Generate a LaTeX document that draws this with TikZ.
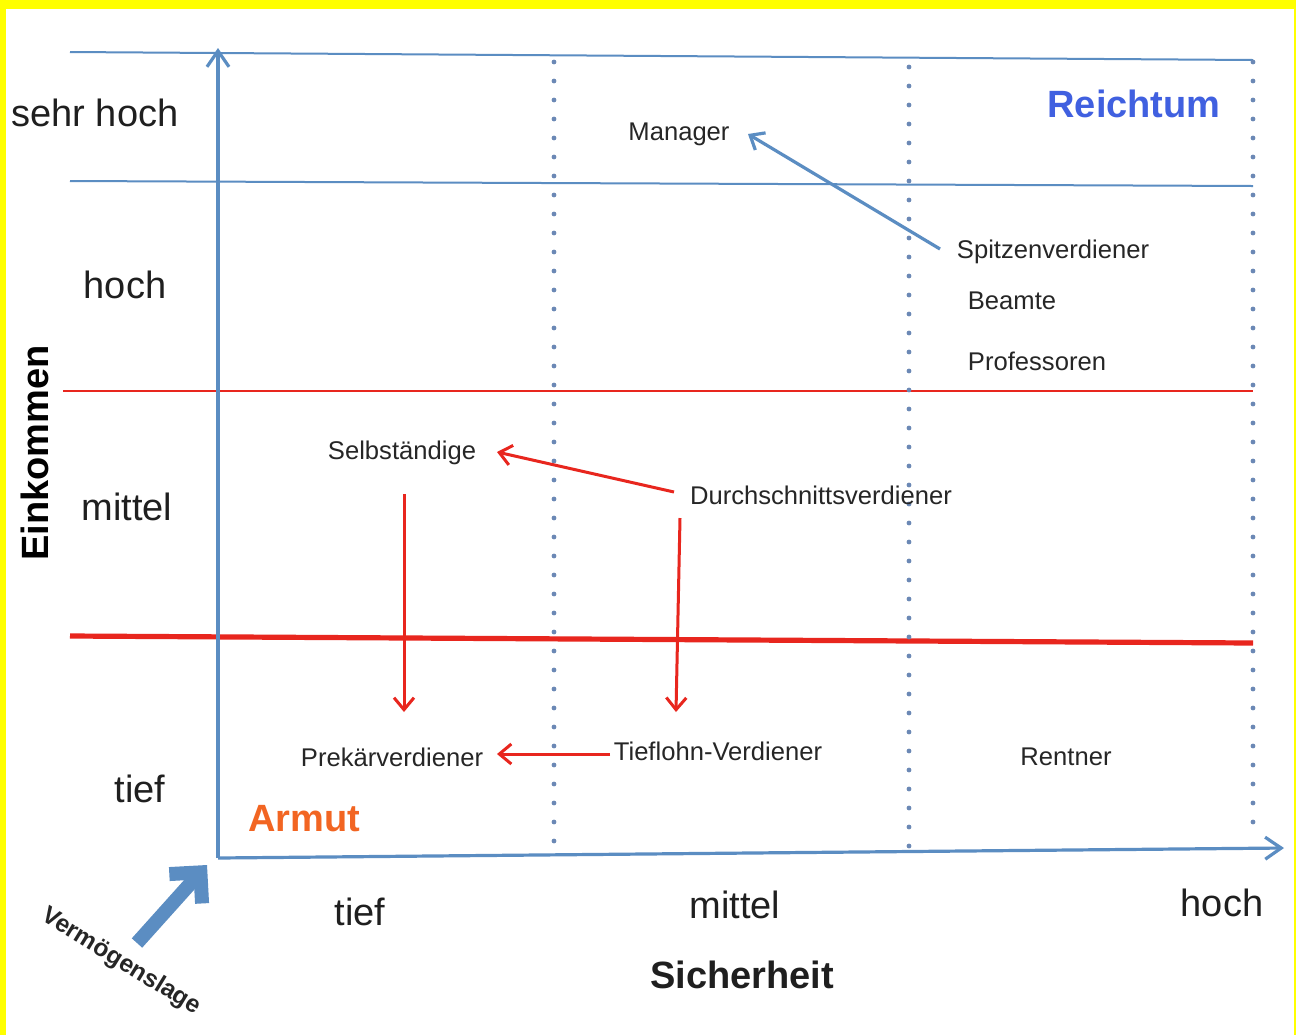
\documentclass[tikz,border=0pt]{standalone}
\usepackage{fontspec}
\setmainfont{Liberation Sans}
\usetikzlibrary{arrows.meta}
\definecolor{lblue}{HTML}{5B8DC2}
\definecolor{dotblue}{HTML}{6B88B5}
\definecolor{rred}{HTML}{E8261E}
\definecolor{richblue}{HTML}{4060E0}
\definecolor{armorange}{HTML}{F26522}
\definecolor{ybg}{HTML}{FFFF00}
\begin{document}
\begin{tikzpicture}[x=0.5pt,y=-0.5pt,
  big/.style={font=\fontsize{19}{22}\selectfont, text=black!88, inner sep=0pt},
  bigbold/.style={font=\fontsize{19}{22}\selectfont\bfseries, inner sep=0pt},
  small/.style={font=\fontsize{12.8}{15}\selectfont, text=black!85, inner sep=0pt},
  gridblue/.style={lblue, line width=1pt},
  dotline/.style={dotblue, line width=2.4pt, line cap=round, dash pattern=on 0pt off 9.5pt},
  axis/.style={lblue, line width=1.6pt, -{Straight Barb[length=8pt,width=11pt,line width=1.6pt]}},
  redarrow/.style={rred, line width=1.5pt, -{Straight Barb[length=6pt,width=10pt,line width=1.5pt]}},
  bluearrow/.style={lblue, line width=1.6pt, -{Straight Barb[length=6pt,width=10pt,line width=1.6pt]}}
]
\fill[ybg] (0,0) rectangle (1296,1035);
\fill[white] (6,9) rectangle (1294,1035);
\useasboundingbox (0,0) rectangle (1296,1035);

% grid lines
\draw[gridblue] (70,52) -- (1253,60);
\draw[gridblue] (70,181) -- (1253,186);
\draw[rred, line width=0.8pt] (63,391) -- (1253,391);
\draw[rred, line width=2.6pt] (70,636) -- (1253,643);
\draw[dotline] (554,62) -- (554,855);
\draw[dotline] (909,67) -- (909,850);
\draw[dotline] (1253,62) -- (1253,840);

% axes
\coordinate (origin) at (218,858);
\coordinate (ytop) at (218,48);
\coordinate (xend) at (1284,848);
\draw[axis] (origin) -- (ytop);
\draw[axis] (origin) -- (xend);

% Vermoegenslage arrow
\coordinate (vstart) at (137,943);
\coordinate (vend) at (207,865);
\draw[lblue, line width=7pt, -{Straight Barb[length=11pt,width=22pt,line width=7pt]}] (vstart) -- (vend);
\node[font=\fontsize{12.3}{15}\selectfont\bfseries, text=black!85, rotate=-31.5, inner sep=0pt] (verm) at (121,962) {Vermögenslage};

% axis labels
\node[bigbold, rotate=90] (eink) at (35,453) {Einkommen};
\node[big] (ysh) at (95,113) {sehr hoch};
\node[big] (yh) at (125,285) {hoch};
\node[big] (ym) at (127,507) {mittel};
\node[big] (yt) at (140,789) {tief};
\node[big] (xt) at (360,912) {tief};
\node[big] (xm) at (735,905) {mittel};
\node[big] (xh) at (1222,903) {hoch};
\node[bigbold, text=black!88] (sich) at (742,975) {Sicherheit};

\node[bigbold, text=richblue] (reich) at (1134,104) {Reichtum};
\node[bigbold, text=armorange] (armut) at (304,819) {Armut};

% groups
\node[small] (manager) at (679,134) {Manager};
\node[small] (spitzen) at (1053,252) {Spitzenverdiener};
\node[small] (beamte) at (1012,301) {Beamte};
\node[small] (prof) at (1037,361) {Professoren};
\node[small] (selb) at (402,453) {Selbständige};
\node[small] (durch) at (821,495) {Durchschnittsverdiener};
\node[small] (prek) at (392,757) {Prekärverdiener};
\node[small] (tief) at (718,751) {Tieflohn-Verdiener};
\node[small] (rentner) at (1066,757) {Rentner};

% arrows
\coordinate (s1) at (940,249);
\coordinate (m1) at (748,134);
\draw[bluearrow] (s1) -- (m1);

\coordinate (d1) at (674,492);
\coordinate (se1) at (497,452);
\draw[redarrow] (d1) -- (se1);

\coordinate (d2) at (680,518);
\coordinate (t2) at (676,712);
\draw[redarrow] (d2) -- (t2);

\coordinate (se2) at (404,494);
\coordinate (p2) at (404,712);
\draw[redarrow] (se2) -- (p2);

\coordinate (t3) at (610,754);
\coordinate (p3) at (497,754);
\draw[redarrow] (t3) -- (p3);
\end{tikzpicture}
\end{document}
